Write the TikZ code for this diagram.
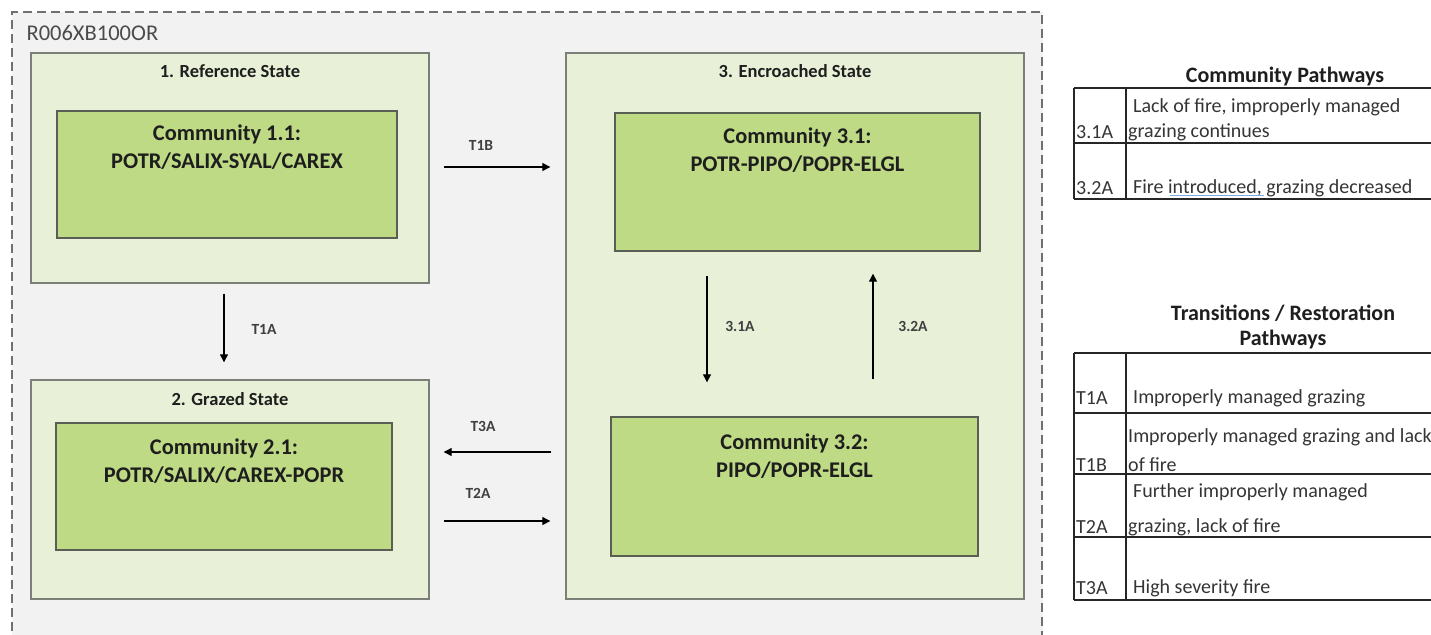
\documentclass[tikz,border=0pt]{standalone}
\usepackage{fontspec}
\setmainfont{Carlito}
\usepackage{tikz}
\usetikzlibrary{positioning,calc,arrows.meta}
\usepackage{xcolor}
\definecolor{panel}{HTML}{F2F2F2}
\definecolor{dashgray}{HTML}{707070}
\definecolor{statefill}{HTML}{E8F1D8}
\definecolor{commfill}{HTML}{BFDA84}
\definecolor{edge}{HTML}{5A5F55}
\definecolor{ink}{HTML}{1E1E1E}
\definecolor{squiggle}{HTML}{7FA8E0}

\tikzset{
  statebox/.style={draw=edge!80,line width=1.4pt,fill=statefill,inner sep=0pt},
  commbox/.style={draw=edge,line width=1.4pt,fill=commfill,inner sep=0pt},
  statetitle/.style={text=ink,font=\fontsize{18.5}{22}\selectfont\bfseries},
  commtext/.style={text=ink,font=\fontsize{22.4}{28}\selectfont\bfseries,align=center,anchor=north},
  trans/.style={line width=1.2pt,-{Triangle[length=8pt,width=8pt]}},
  translabel/.style={text=ink!85,font=\fontsize{15.5}{18}\selectfont\bfseries},
  cell/.style={text=ink!90,font=\fontsize{20}{24}\selectfont,anchor=west,inner sep=0pt},
  tabtitle/.style={text=ink,font=\fontsize{22}{25}\selectfont\bfseries},
  rule/.style={line width=1.3pt,draw=black!85}
}

\begin{document}
\begin{tikzpicture}[x=1pt,y=-1pt]
    \useasboundingbox (0,0) rectangle (1431,634);

    % ecological site frame
    \fill[white] (0,0) rectangle (1431,634);
    \draw[panel,fill=panel] (12,12) rectangle (1042,660);
    \draw[dashgray,line width=1.2pt,dash pattern=on 9pt off 5pt] (1042,640) -- (1042,12) -- (12,12) -- (12,640);
    \node[text=ink!80,font=\fontsize{22.5}{26}\selectfont,anchor=west] (site) at (23,33) {R006XB100OR};

    % 1. Reference State
    \node[statebox,minimum width=398pt,minimum height=230pt] (s1) at (230,168) {};
    \node[statetitle] (s1t) at ($(s1.north)+(0,19)$) {1. Reference State};
    \node[commbox,minimum width=340pt,minimum height=127pt] (c11) at (227,174.5) {};
    \node[commtext] (c11t) at ($(c11.north)+(0,11)$) {Community 1.1:\\POTR/SALIX-SYAL/CAREX};

    % 2. Grazed State
    \node[statebox,minimum width=398pt,minimum height=219pt] (s2) at (230,489.5) {};
    \node[statetitle] (s2t) at ($(s2.north)+(0,20)$) {2. Grazed State};
    \node[commbox,minimum width=336pt,minimum height=127pt] (c21) at (224,486.5) {};
    \node[commtext] (c21t) at ($(c21.north)+(0,13)$) {Community 2.1:\\POTR/SALIX/CAREX-POPR};

    % 3. Encroached State
    \node[statebox,minimum width=458pt,minimum height=546pt] (s3) at (795,326) {};
    \node[statetitle] (s3t) at ($(s3.north)+(0,19)$) {3. Encroached State};
    \node[commbox,minimum width=365pt,minimum height=138pt] (c31) at (797.5,182) {};
    \node[commtext] (c31t) at ($(c31.north)+(0,12)$) {Community 3.1:\\POTR-PIPO/POPR-ELGL};
    \node[commbox,minimum width=367pt,minimum height=139pt] (c32) at (794.5,486.5) {};
    \node[commtext] (c32t) at ($(c32.north)+(0,14)$) {Community 3.2:\\PIPO/POPR-ELGL};

    % transitions
    \draw[trans,shorten <=10pt,shorten >=17pt] ([xshift=-6pt]s1.south) -- ([xshift=-6pt]s2.north);
    \node[translabel] (t1a) at (264,329) {T1A};
    \draw[trans,shorten <=14pt,shorten >=15pt] ([yshift=1pt]s1.east) -- ([yshift=1pt]s1.east -| s3.west);
    \node[translabel] (t1b) at (481,145) {T1B};
    \draw[trans,shorten <=14pt,shorten >=14pt] ([yshift=37.5pt]s2.east -| s3.west) -- ([yshift=37.5pt]s2.east);
    \node[translabel] (t3a) at (483,426) {T3A};
    \draw[trans,shorten <=14pt,shorten >=15pt] ([yshift=-31.5pt]s2.east) -- ([yshift=-31.5pt]s2.east -| s3.west);
    \node[translabel] (t2a) at (478,493) {T2A};

    % community pathways
    \draw[trans,shorten <=24pt,shorten >=34pt] ([xshift=-90.5pt]c31.south) -- ([xshift=-87.5pt]c32.north);
    \node[translabel] (p31) at (740,326) {3.1A};
    \draw[trans,shorten <=37pt,shorten >=22pt] ([xshift=78.5pt]c32.north) -- ([xshift=75.5pt]c31.south);
    \node[translabel] (p32) at (913,326) {3.2A};

    % Community Pathways table
    \node[tabtitle] (cptitle) at (1285,77) {Community Pathways};
    \foreach \y in {88,143,199} \draw[rule] (1074,\y) -- (1440,\y);
    \foreach \x in {1074,1126} \draw[rule] (\x,88) -- (\x,199);
    \node[cell] (r31k) at (1076,132) {3.1A};
    \node[cell] (r31a) at (1133,107) {Lack of fire, improperly managed};
    \node[cell] (r31b) at (1128,132) {grazing continues};
    \node[cell] (r32k) at (1076,188) {3.2A};
    \node[cell] (r32a) at (1133,188) {Fire introduced, grazing decreased};
    \draw[squiggle,line width=1.2pt] (1170,195.5) -- (1264,195.5);

    % Transitions / Restoration Pathways table
    \node[tabtitle,align=center,font=\fontsize{22}{25}\selectfont\bfseries] (trtitle) at (1283,327) {Transitions / Restoration\\Pathways};
    \foreach \y in {353,413,474,537,600} \draw[rule] (1074,\y) -- (1440,\y);
    \foreach \x in {1074,1126} \draw[rule] (\x,353) -- (\x,600);
    \node[cell] (rt1a) at (1076,398) {T1A};
    \node[cell] (rt1aa) at (1133,398) {Improperly managed grazing};
    \node[cell] (rt1b) at (1076,465) {T1B};
    \node[cell] (rt1ba) at (1128,437) {Improperly managed grazing and lack};
    \node[cell] (rt1bb) at (1128,465) {of fire};
    \node[cell] (rt2a) at (1076,527) {T2A};
    \node[cell] (rt2aa) at (1133,492) {Further improperly managed};
    \node[cell] (rt2ab) at (1128,527) {grazing, lack of fire};
    \node[cell] (rt3a) at (1076,588) {T3A};
    \node[cell] (rt3aa) at (1133,588) {High severity fire};
\end{tikzpicture}
\end{document}
